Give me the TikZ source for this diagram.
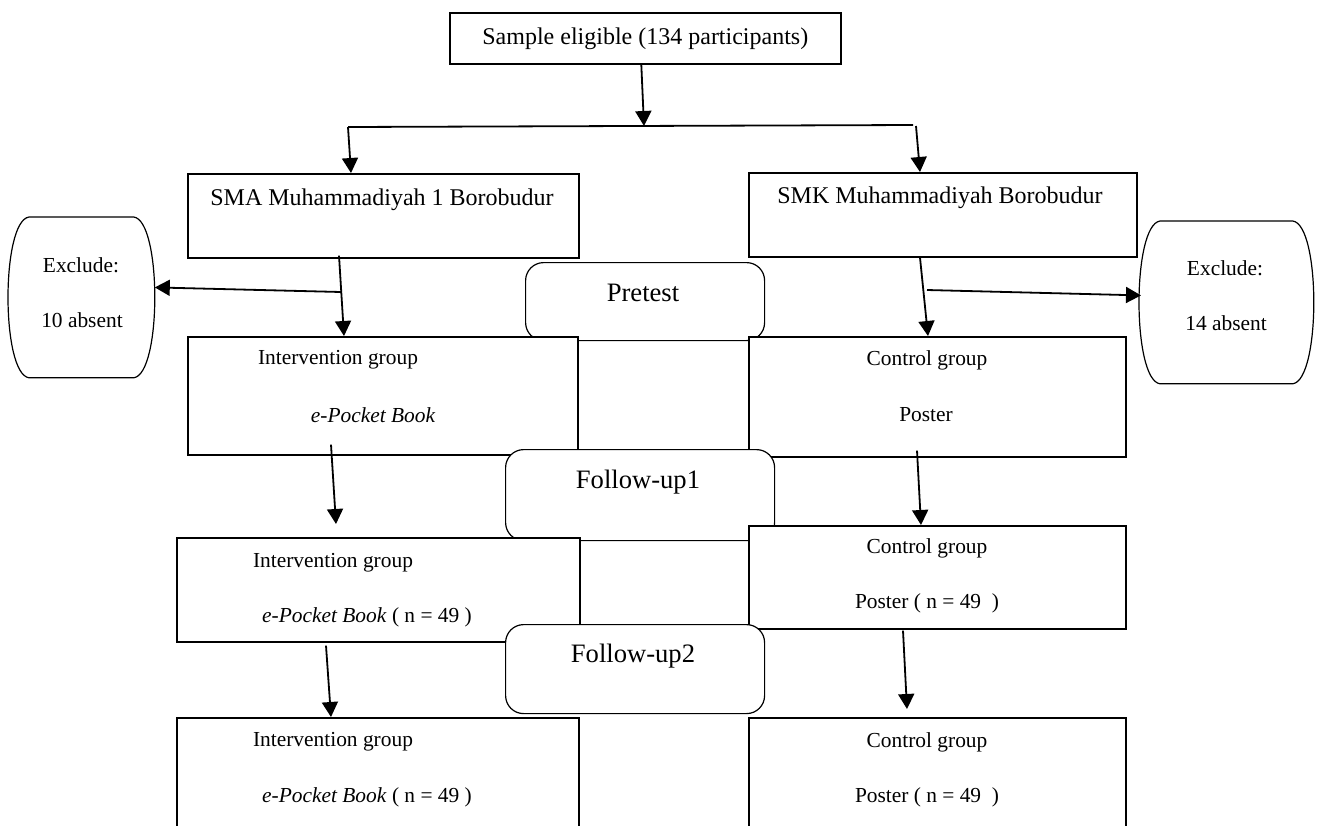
\documentclass[tikz,border=0pt]{standalone}
\usepackage{fontspec}
\setmainfont{Liberation Serif}
\usetikzlibrary{arrows.meta,calc}

\begin{document}
\begin{tikzpicture}[x=0.5pt,y=-0.5pt,
    box/.style={draw,line width=0.8pt,fill=white,anchor=north west,inner sep=0pt},
    stage/.style={draw,line width=0.6pt,fill=white,rounded corners=9pt,anchor=north west,inner sep=0pt},
    hold/.style={anchor=north west,inner sep=0pt},
    lbl/.style={inner sep=0pt,font=\fontsize{10.7}{13}\selectfont},
    big/.style={inner sep=0pt,font=\fontsize{12}{14}\selectfont},
    stg/.style={inner sep=0pt,font=\fontsize{13.3}{16}\selectfont},
    arr/.style={-{Triangle[length=7.5pt,width=8pt]},line width=0.9pt}]

\useasboundingbox (0,0) rectangle (1317,825);
\clip (0,0) rectangle (1317,825);

% top
\node[box,minimum width=195.5pt,minimum height=25.5pt,big] (top) at (449,12) {Sample eligible (134 participants)};
\node[box,minimum width=195.5pt,minimum height=42pt] (sma) at (187,173) {};
\node[big] (smat) at (382,200) {SMA Muhammadiyah 1 Borobudur};
\node[box,minimum width=194pt,minimum height=42pt] (smk) at (748,172) {};
\node[big] (smkt) at (940,198) {SMK Muhammadiyah Borobudur};

% excluded
\node[hold,minimum width=72pt,minimum height=80pt] (exl) at (9,217) {};
\node[lbl] (exlt) at (81,265) {Exclude:};
\node[lbl] (exlb) at (82,320) {10 absent};
\node[hold,minimum width=86pt,minimum height=81pt] (exr) at (1140,221) {};
\node[lbl] (exrt) at (1225,268) {Exclude:};
\node[lbl] (exrb) at (1226,323) {14 absent};
\foreach \n in {exl,exr}
  \draw[line width=0.6pt] ($(\n.north west)+(20,0)$) -- ($(\n.north east)+(-20,0)$)
    .. controls ($(\n.north east)+(8,4)$) and ($(\n.south east)+(8,-4)$) .. ($(\n.south east)+(-20,0)$)
    -- ($(\n.south west)+(20,0)$)
    .. controls ($(\n.south west)+(-8,-4)$) and ($(\n.north west)+(-8,4)$) .. cycle;

% pretest
\node[stage,minimum width=119.5pt,minimum height=39pt] (pre) at (525,262) {};
\node[stg] (pret) at (643,293) {Pretest};

% first groups
\node[box,minimum width=195pt,minimum height=59pt] (int1) at (187,336) {};
\node[lbl] (int1a) at (338,360) {Intervention group};
\node[lbl] (int1b) at (373,415) {\itshape e-Pocket Book};
\node[box,minimum width=188.5pt,minimum height=60pt] (ctl1) at (748,336) {};
\node[lbl] (ctl1a) at (927,360) {Control group};
\node[lbl] (ctl1b) at (926,415) {Poster};

% follow-up 1
\node[stage,minimum width=134.5pt,minimum height=45.5pt] (fu1) at (505,449) {};
\node[stg] (fu1t) at (638,482) {Follow-up1};

\node[box,minimum width=201.5pt,minimum height=52pt] (int2) at (176,537) {};
\node[lbl] (int2a) at (333,563) {Intervention group};
\node[lbl] (int2b) at (367,617) {\textit{e-Pocket Book} ( n = 49 )};
\node[box,minimum width=188.5pt,minimum height=51.5pt] (ctl2) at (748,525) {};
\node[lbl] (ctl2a) at (927,548) {Control group};
\node[lbl] (ctl2b) at (927,603) {Poster ( n = 49 \ )};

% follow-up 2
\node[stage,minimum width=129.5pt,minimum height=44.5pt] (fu2) at (505,624) {};
\node[stg] (fu2t) at (633,656) {Follow-up2};

\node[box,minimum width=201pt,minimum height=75pt] (int3) at (176,717) {};
\node[lbl] (int3a) at (333,742) {Intervention group};
\node[lbl] (int3b) at (367,797) {\textit{e-Pocket Book} ( n = 49 )};
\node[box,minimum width=188.5pt,minimum height=75pt] (ctl3) at (748,717) {};
\node[lbl] (ctl3a) at (927,742) {Control group};
\node[lbl] (ctl3b) at (927,797) {Poster ( n = 49 \ )};

% arrows
\coordinate (splitL) at (348,127);
\coordinate (splitM) at (644,126);
\coordinate (splitR) at (913,125);
\draw[line width=0.9pt] (splitL) -- (splitR);
\draw[arr] ($(top.south)+(-4,0)$) -- (splitM);
\draw[arr] (splitL) -- ($(sma.north west)+(164,0)$);
\draw[arr] ($(splitR)+(3,1)$) -- ($(smk.north west)+(172,0)$);

\coordinate (brL) at (341,292);
\coordinate (brR) at (927,290);
\draw[arr] ($(sma.south west)+(152,-3)$) -- ($(int1.north west)+(157,0)$);
\draw[arr] (brL) -- ($(exl.east)+(1,-10)$);
\draw[arr] ($(smk.south west)+(172,0)$) -- ($(ctl1.north west)+(180,0)$);
\draw[arr] (brR) -- ($(exr.west)+(1,-7)$);

\draw[arr] ($(int1.south west)+(144,-11)$) -- ($(int2.north west)+(160,-13)$);
\draw[arr] ($(ctl1.south west)+(169,-7)$) -- ($(ctl2.north west)+(173,0)$);
\draw[arr] ($(int2.south west)+(150,3)$) -- ($(int3.north west)+(155,0)$);
\draw[arr] ($(ctl2.south west)+(155,1)$) -- ($(ctl3.north west)+(159,-8)$);
\end{tikzpicture}
\end{document}
